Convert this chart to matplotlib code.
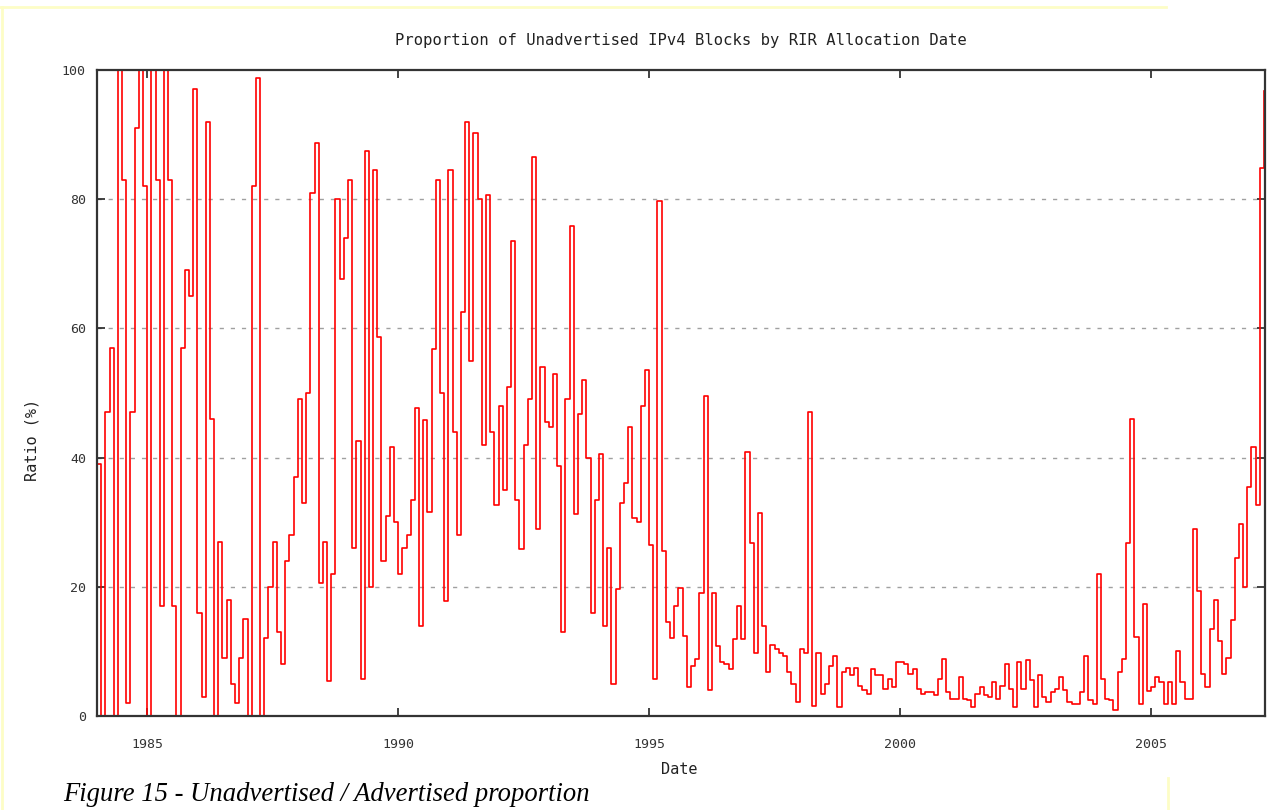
import numpy as np
import matplotlib
matplotlib.use("Agg")
import matplotlib.pyplot as plt
from matplotlib.lines import Line2D

# monthly ratio of unadvertised blocks (%), Jan 1984 onwards
ratio_84_87 = [39, 0, 47, 57, 0, 100, 83, 2, 47, 91, 100, 82,
               0, 100, 83, 17, 100, 83, 17, 0, 57, 69, 65, 97,
               16, 3, 92, 46, 0, 27, 9, 18, 5, 2, 9, 15,
               0, 82, 98.7, 0, 12, 20, 27, 13, 8, 24, 28, 37]
ratio_88_91 = [49, 33, 50, 81, 88.7, 20.6, 27, 5.4, 22, 80, 67.7, 74,
               82.9, 26, 42.6, 5.8, 87.4, 20, 84.5, 58.7, 24, 31, 41.6, 30,
               22, 26, 28, 33.5, 47.7, 14, 45.8, 31.6, 56.8, 82.9, 50, 17.8,
               84.5, 44, 28, 62.6, 92, 55, 90.3, 80, 42, 80.6, 44, 32.6]
ratio_92_95 = [48, 35, 51, 73.5, 33.5, 25.8, 42, 49, 86.6, 29, 54, 45.5,
               44.8, 53, 38.7, 13, 49, 75.8, 31.3, 46.8, 52, 40, 16, 33.5,
               40.6, 14, 26, 5, 19.7, 33, 36, 44.8, 30.6, 30, 48, 53.5,
               26.5, 5.8, 79.7, 25.5, 14.5, 12, 17, 19.8, 12.4, 4.5, 7.8, 8.8]
ratio_96_99 = [19, 49.6, 4, 19, 10.9, 8.3, 8, 7.3, 11.9, 17, 11.9, 40.9,
               26.8, 9.8, 31.4, 14, 6.8, 11, 10.4, 9.8, 9.3, 6.8, 5, 2.2,
               10.4, 9.8, 47, 1.6, 9.8, 3.4, 5, 7.8, 9.3, 1.4, 6.8, 7.5,
               6.3, 7.5, 4.7, 4, 3.4, 7.3, 6.3, 6.3, 4.2, 5.7, 4.5, 8.3]
ratio_00_03 = [8.3, 8, 6.5, 7.3, 4.2, 3.4, 3.7, 3.7, 3.2, 5.7, 8.8, 3.7,
               2.7, 2.7, 6, 2.7, 2.4, 1.4, 3.4, 4.5, 3.2, 2.9, 5.2, 2.7,
               4.7, 8, 4.2, 1.4, 8.3, 4.2, 8.6, 5.5, 1.4, 6.3, 2.9, 2.2,
               3.7, 4.2, 6, 4, 2.2, 1.9, 1.9, 3.7, 9.3, 2.4, 1.9, 22]
ratio_04_07 = [5.7, 2.7, 2.4, 0.9, 6.8, 8.8, 26.8, 46, 12.3, 1.9, 17.4, 3.9,
               4.5, 6.1, 5.2, 1.9, 5.2, 1.9, 10, 5.2, 2.6, 2.6, 29, 19.4,
               6.5, 4.5, 13.5, 18, 11.6, 6.5, 9, 14.8, 24.5, 29.7, 20, 35.5,
               41.6, 32.6, 84.8, 96.8]

year_ticks = [1985, 1990, 1995, 2000, 2005]
ratio_ticks = [0, 20, 40, 60, 80, 100]

ratio = np.array(ratio_84_87 + ratio_88_91 + ratio_92_95
                 + ratio_96_99 + ratio_00_03 + ratio_04_07)
dates = 1984 + np.arange(len(ratio)) / 12.0

W, H = 1269, 810
fig = plt.figure(figsize=(W / 100, H / 100), dpi=100)
fig.patch.set_facecolor("white")
ax = fig.add_axes([97 / W, 1 - 716 / H, (1265 - 97) / W, (716 - 70) / H])

ax.plot(dates, ratio, drawstyle="steps-post", color="#ff0000", lw=1.2)

ax.set_xlim(1984.0, 2007.27)
ax.set_ylim(0, 100)
ax.set_xticks(year_ticks)
ax.set_xticklabels([str(y) for y in year_ticks])
ax.set_yticks(ratio_ticks)

mono = "DejaVu Sans Mono"
ax.tick_params(axis="both", direction="in", length=6, width=1.2,
               color="#222222", top=True, right=True,
               labelsize=9.5, labelcolor="#333333")
ax.tick_params(axis="x", pad=16)
ax.tick_params(axis="y", pad=8)
for lab in ax.get_xticklabels() + ax.get_yticklabels():
    lab.set_family(mono)

for sp in ax.spines.values():
    sp.set_color("#333333")
    sp.set_linewidth(1.6)

for yv in ratio_ticks[1:-1]:
    ax.axhline(yv, color="#a0a0a0", lw=1.0, ls=(0, (3, 5)), zorder=0)

fig.text(681 / W, 1 - 40 / H, "Proportion of Unadvertised IPv4 Blocks by RIR Allocation Date",
         ha="center", va="center", family=mono, fontsize=11.2, color="#222222")
fig.text(679 / W, 1 - 769 / H, "Date", ha="center", va="center",
         family=mono, fontsize=11, color="#222222")
fig.text(32 / W, 1 - 440 / H, "Ratio (%)", ha="center", va="center",
         rotation=90, family=mono, fontsize=11, color="#222222")

fig.text(63 / W, 1 - 801 / H, "Figure 15 - Unadvertised / Advertised proportion",
         ha="left", va="baseline", family="Liberation Serif", style="italic",
         fontsize=19.2, color="black")

# page border lines
yellow = "#fdfdc6"
fig.add_artist(Line2D([0, 1166 / W], [1 - 7 / H, 1 - 7 / H], color=yellow, lw=2))
fig.add_artist(Line2D([2 / W, 2 / W], [1 - 7 / H, 0], color=yellow, lw=2))
fig.add_artist(Line2D([1168 / W, 1168 / W], [1 - 778 / H, 0], color=yellow, lw=2))

fig.savefig("out.png", dpi=100)
